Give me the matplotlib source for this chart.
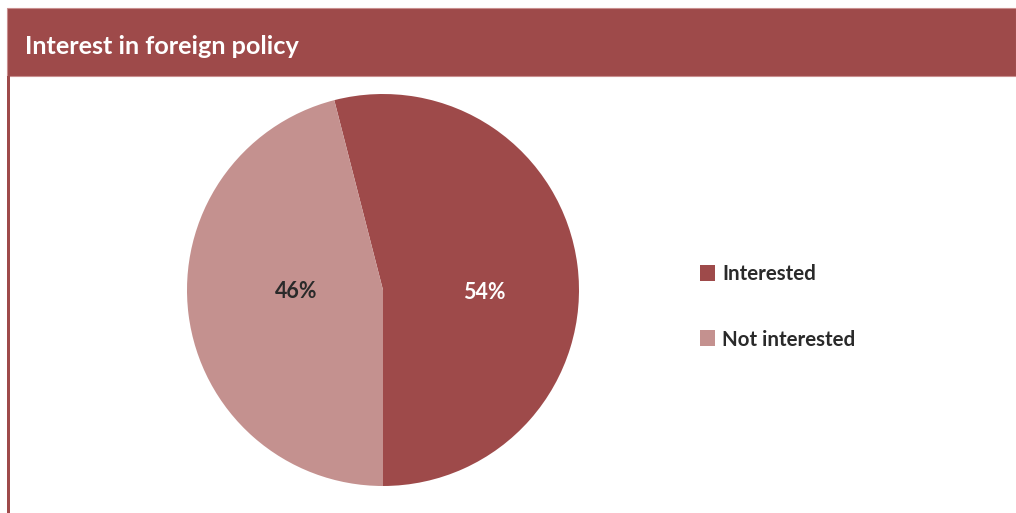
import matplotlib
matplotlib.use("Agg")
import matplotlib.pyplot as plt
from matplotlib.patches import Rectangle

# Survey shares
categories = ["Interested", "Not interested"]
shares = [54, 46]
colors = ["#9e4a4a", "#c4918f"]
label_colors = ["white", "#2a2a2a"]
title = "Interest in foreign policy"

W, H = 1016, 513
fig = plt.figure(figsize=(W / 100, H / 100), dpi=100)
fig.patch.set_facecolor("white")

def fx(px):
    return px / W

def fy(py):
    return 1 - py / H

# Header band
fig.add_artist(Rectangle((fx(7), fy(76)), fx(W - 7), 68 / H,
                         transform=fig.transFigure, facecolor="#9e4a4a",
                         edgecolor="#c98f8f", linewidth=0.8))
fig.text(fx(25), fy(46), title, color="white", fontsize=18.2,
         fontweight="bold", family="Lato", va="center", ha="left")

# Left frame line
fig.add_artist(Rectangle((fx(7), 0), 2.5 / W, fy(76),
                         transform=fig.transFigure, facecolor="#9e4a4a",
                         edgecolor="none"))

# Pie
cx, cy, r = 383, 290, 196
ax = fig.add_axes([fx(cx - r), fy(cy + r), 2 * r / W, 2 * r / H])
wedges, texts, autotexts = ax.pie(
    shares, colors=colors, startangle=-90, counterclock=True,
    autopct=lambda p: f"{p:.0f}%", pctdistance=0.5,
    wedgeprops=dict(linewidth=0))
ax.set_aspect("equal")
ax.set_xlim(-1, 1)
ax.set_ylim(-1, 1)
label_pos = [(0.515, -0.015), (-0.445, -0.01)]
for t, c, pos in zip(autotexts, label_colors, label_pos):
    t.set_color(c)
    t.set_fontsize(15.5)
    t.set_fontweight("bold")
    t.set_family("Lato")
    t.set_position(pos)

# Legend
legend_y = [273, 338]
for cat, col, ly in zip(categories, colors, legend_y):
    fig.add_artist(Rectangle((fx(700), fy(ly + 8)), 15 / W, 16 / H,
                             transform=fig.transFigure, facecolor=col,
                             edgecolor="none"))
    fig.text(fx(722), fy(ly + 1.5), cat, fontsize=14.8, fontweight="bold",
             family="Lato", color="#2a2a2a", va="center", ha="left")

fig.savefig("out.png", dpi=100, facecolor="white")
